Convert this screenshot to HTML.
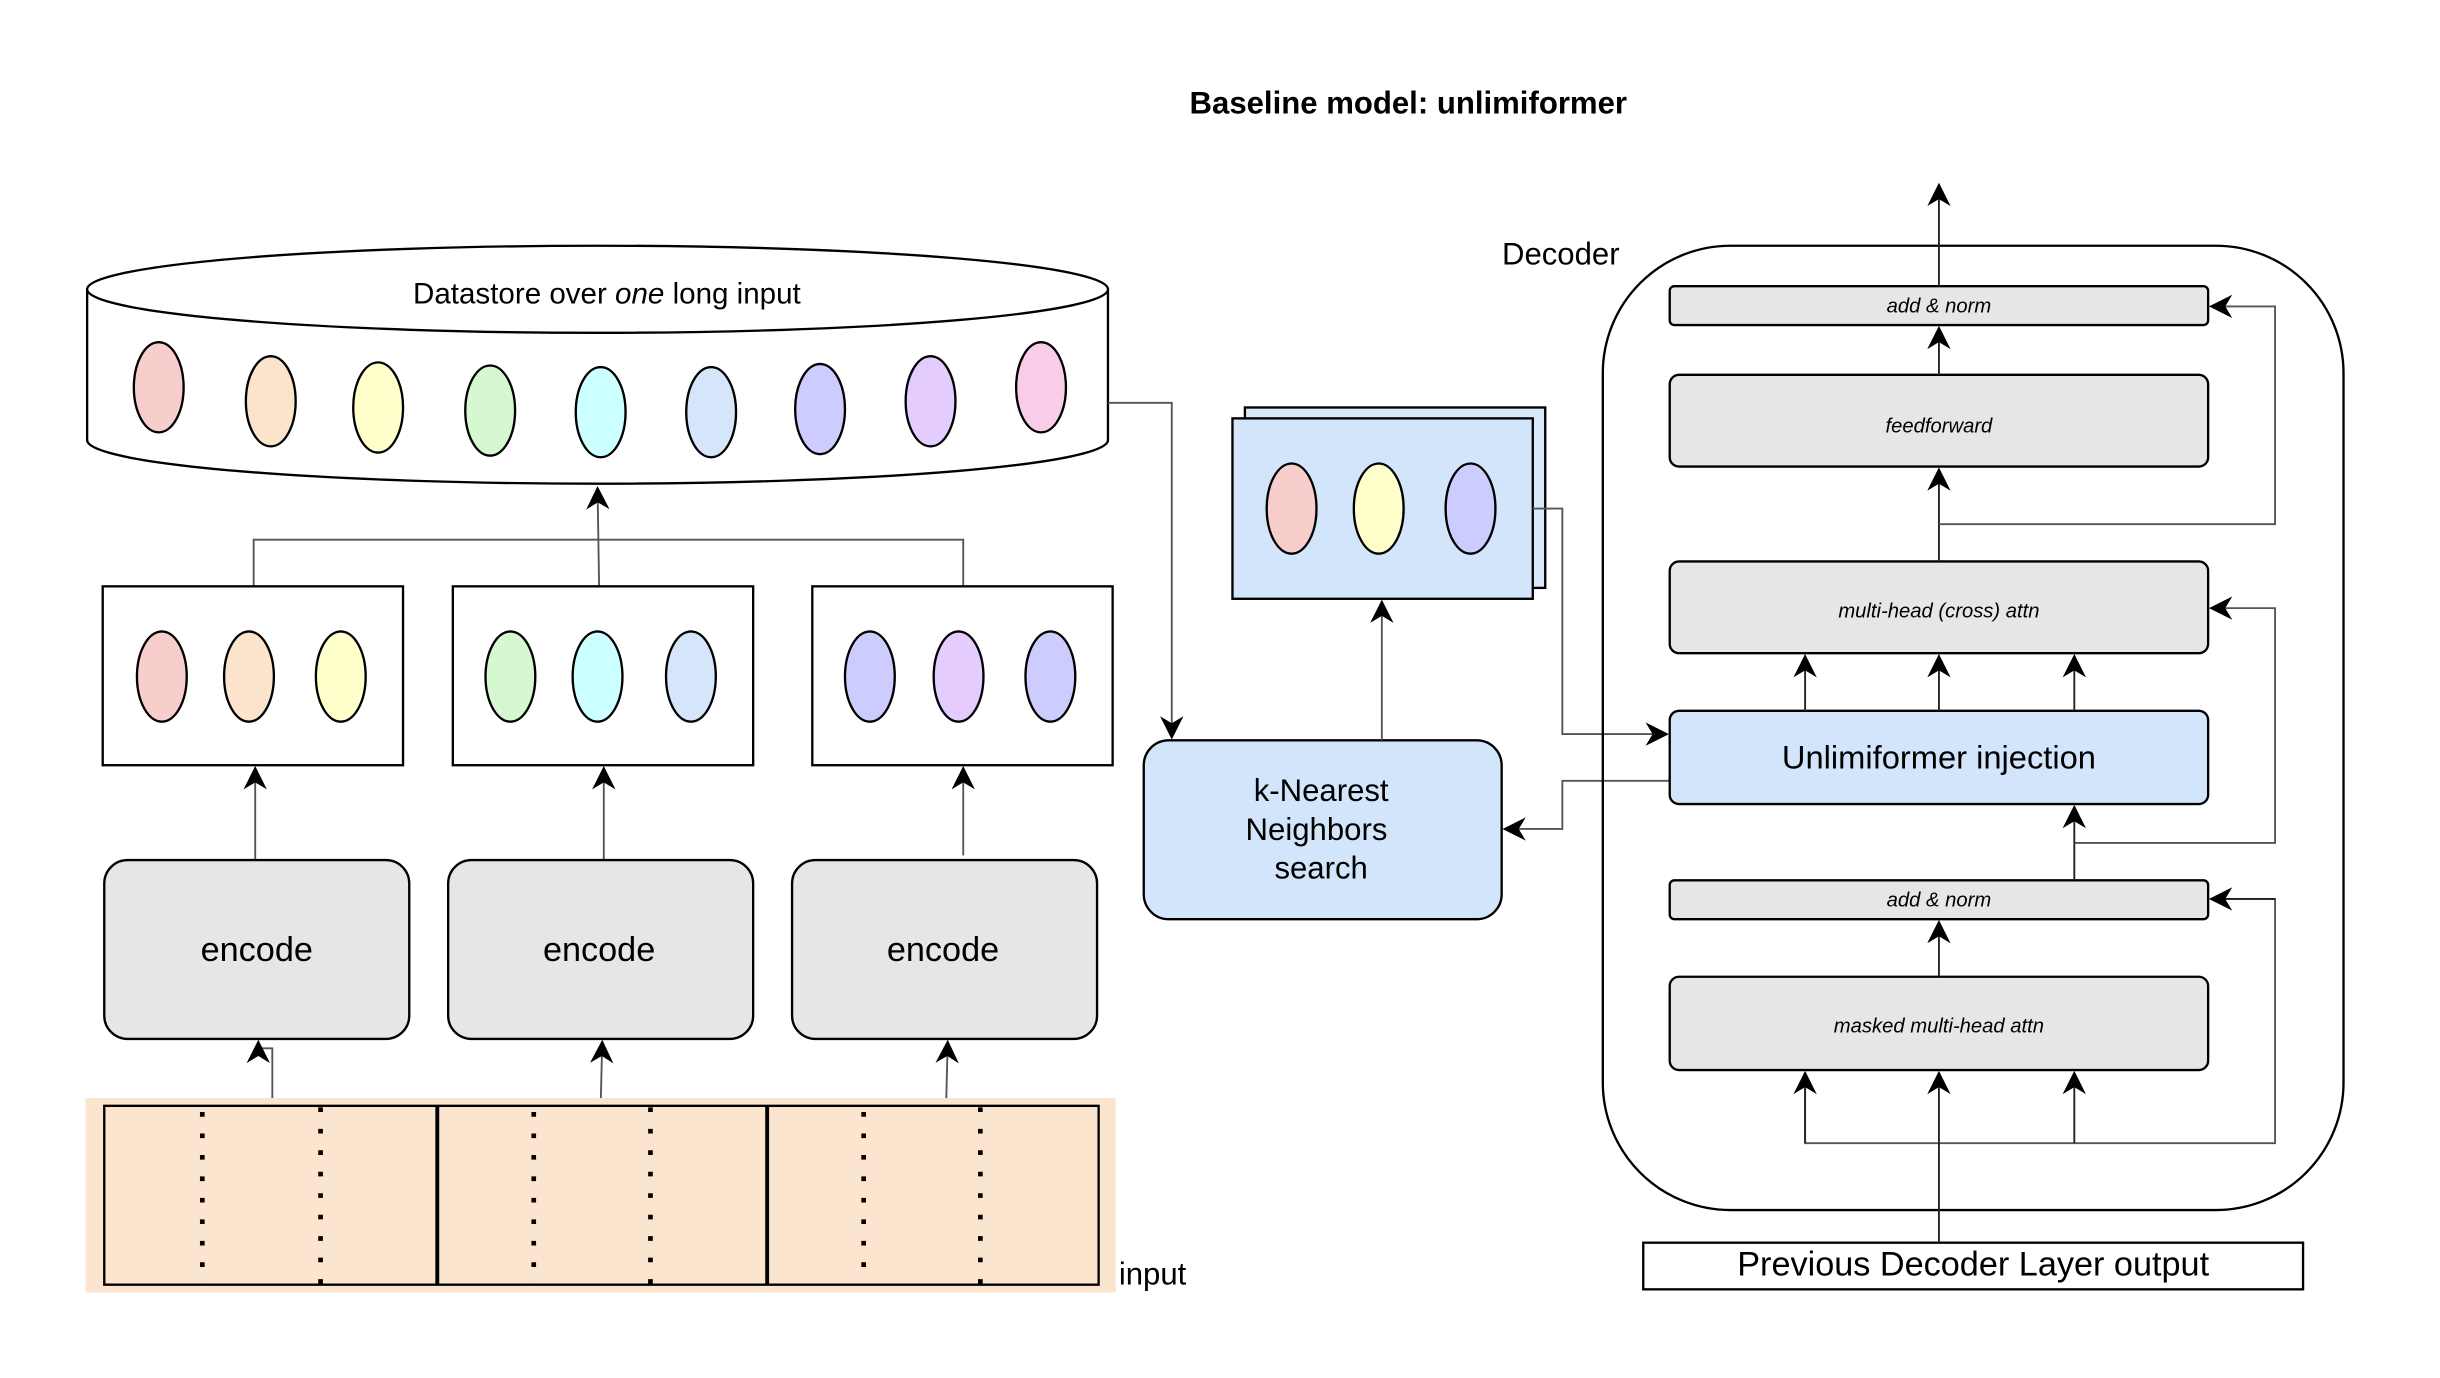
<!DOCTYPE html>
<html><head><meta charset="utf-8"><style>
html,body{margin:0;padding:0;background:#fff;}
svg{display:block;}
text{font-family:"Liberation Sans",sans-serif;}
</style></head><body>
<svg width="2440" height="1378" viewBox="0 0 1568 886" preserveAspectRatio="none" xmlns="http://www.w3.org/2000/svg">
<defs>
<marker id="a" viewBox="0 0 10 10" refX="9" refY="5" markerWidth="15" markerHeight="15" orient="auto" markerUnits="userSpaceOnUse">
<path d="M0,0 L10,5 L0,10 L3,5 Z" fill="#000"/>
</marker>
</defs>
<rect width="1568" height="886" fill="#fff"/>
<text x="905" y="73" font-size="20" font-weight="bold" text-anchor="middle">Baseline model: unlimiformer</text>

<path d="M56,186 L56,283 A328,28 0 0 0 712,283 L712,186" fill="#fff" stroke="#000" stroke-width="1.5"/>
<ellipse cx="384" cy="186" rx="328" ry="28" fill="#fff" stroke="#000" stroke-width="1.5"/>
<text x="390" y="195" font-size="19" text-anchor="middle">Datastore over <tspan font-style="italic">one</tspan> long input</text>
<g stroke="#000" stroke-width="1.5">
<ellipse cx="102" cy="249" rx="16" ry="29" fill="#f8cecc"/>
<ellipse cx="174" cy="258" rx="16" ry="29" fill="#fbe3cc"/>
<ellipse cx="243" cy="262" rx="16" ry="29" fill="#ffffcc"/>
<ellipse cx="315" cy="264" rx="16" ry="29" fill="#d5f8d0"/>
<ellipse cx="386" cy="265" rx="16" ry="29" fill="#ccffff"/>
<ellipse cx="457" cy="265" rx="16" ry="29" fill="#d5e6fb"/>
<ellipse cx="527" cy="263" rx="16" ry="29" fill="#ccccff"/>
<ellipse cx="598" cy="258" rx="16" ry="29" fill="#e5ccff"/>
<ellipse cx="669" cy="249" rx="16" ry="29" fill="#f9cce8"/>
</g>

<g fill="none" stroke="#555" stroke-width="1.2">
<polyline points="712,259 753,259 753,474" marker-end="url(#a)"/>
<polyline points="163,377 163,347 619,347 619,377"/>
<polyline points="385,377 384,314" marker-end="url(#a)"/>
<line x1="164" y1="553" x2="164" y2="494" marker-end="url(#a)"/>
<line x1="388" y1="553" x2="388" y2="494" marker-end="url(#a)"/>
<line x1="619" y1="550" x2="619" y2="494" marker-end="url(#a)"/>
<polyline points="175,711 175,674 166,674 166,670" marker-end="url(#a)"/>
<polyline points="386,711 387,670" marker-end="url(#a)"/>
<polyline points="608,711 609,670" marker-end="url(#a)"/>
</g>

<g stroke="#000" stroke-width="1.5">
<rect x="66" y="377" width="193" height="115" fill="#fff"/>
<rect x="291" y="377" width="193" height="115" fill="#fff"/>
<rect x="522" y="377" width="193" height="115" fill="#fff"/>
<ellipse cx="104" cy="435" rx="16" ry="29" fill="#f8cecc"/>
<ellipse cx="160" cy="435" rx="16" ry="29" fill="#fbe3cc"/>
<ellipse cx="219" cy="435" rx="16" ry="29" fill="#ffffcc"/>
<ellipse cx="328" cy="435" rx="16" ry="29" fill="#d5f8d0"/>
<ellipse cx="384" cy="435" rx="16" ry="29" fill="#ccffff"/>
<ellipse cx="444" cy="435" rx="16" ry="29" fill="#d5e6fb"/>
<ellipse cx="559" cy="435" rx="16" ry="29" fill="#ccccff"/>
<ellipse cx="616" cy="435" rx="16" ry="29" fill="#e5ccff"/>
<ellipse cx="675" cy="435" rx="16" ry="29" fill="#ccccff"/>
<rect x="67" y="553" width="196" height="115" rx="15" fill="#e6e6e6"/>
<rect x="288" y="553" width="196" height="115" rx="15" fill="#e6e6e6"/>
<rect x="509" y="553" width="196" height="115" rx="15" fill="#e6e6e6"/>
</g>
<g font-size="22" text-anchor="middle">
<text x="165" y="618">encode</text>
<text x="385" y="618">encode</text>
<text x="606" y="618">encode</text>
</g>

<rect x="55" y="706" width="662" height="125" fill="#fbe5cf"/>
<rect x="67" y="711" width="639" height="115" fill="none" stroke="#000" stroke-width="1.5"/>
<line x1="281" y1="711" x2="281" y2="826" stroke="#000" stroke-width="2.5"/>
<line x1="493" y1="711" x2="493" y2="826" stroke="#000" stroke-width="2.5"/>
<g stroke="#000" stroke-width="3" stroke-dasharray="3 10.8">
<line x1="130" y1="715" x2="130" y2="826"/>
<line x1="206" y1="712" x2="206" y2="826"/>
<line x1="343" y1="715" x2="343" y2="826"/>
<line x1="418" y1="712" x2="418" y2="826"/>
<line x1="555" y1="715" x2="555" y2="826"/>
<line x1="630" y1="712" x2="630" y2="826"/>
</g>
<text x="719" y="826" font-size="20">input</text>

<g stroke="#000" stroke-width="1.5">
<rect x="800" y="262" width="193" height="116" fill="#dae8fc"/>
<rect x="792" y="269" width="193" height="116" fill="#d3e5fb"/>
<ellipse cx="830" cy="327" rx="16" ry="29" fill="#f8cecc"/>
<ellipse cx="886" cy="327" rx="16" ry="29" fill="#ffffcc"/>
<ellipse cx="945" cy="327" rx="16" ry="29" fill="#ccccff"/>
<rect x="735" y="476" width="230" height="115" rx="16" fill="#d3e5fb"/>
</g>
<g font-size="20" text-anchor="middle">
<text x="849" y="515">k-Nearest</text>
<text x="846" y="540">Neighbors</text>
<text x="849" y="565">search</text>
</g>
<g fill="none" stroke="#555" stroke-width="1.2">
<line x1="888" y1="476" x2="888" y2="387" marker-end="url(#a)"/>
<polyline points="985,327 1004,327 1004,472 1071,472" marker-end="url(#a)"/>
<polyline points="1073,502 1004,502 1004,533 967,533" marker-end="url(#a)"/>
</g>

<text x="1003" y="170" font-size="20" text-anchor="middle">Decoder</text>
<rect x="1030" y="158" width="476" height="620" rx="82" fill="none" stroke="#000" stroke-width="1.5"/>
<g stroke="#000" stroke-width="1.5">
<rect x="1073" y="184" width="346" height="25" rx="3" fill="#e6e6e6"/>
<rect x="1073" y="241" width="346" height="59" rx="6" fill="#e6e6e6"/>
<rect x="1073" y="361" width="346" height="59" rx="6" fill="#e6e6e6"/>
<rect x="1073" y="457" width="346" height="60" rx="6" fill="#d3e5fb"/>
<rect x="1073" y="566" width="346" height="25" rx="3" fill="#e6e6e6"/>
<rect x="1073" y="628" width="346" height="60" rx="6" fill="#e6e6e6"/>
<rect x="1056" y="799" width="424" height="30" fill="#fff"/>
</g>
<g font-size="13" font-style="italic" text-anchor="middle">
<text x="1246" y="201">add &amp; norm</text>
<text x="1246" y="278">feedforward</text>
<text x="1246" y="397">multi-head (cross) attn</text>
<text x="1246" y="583">add &amp; norm</text>
<text x="1246" y="664">masked multi-head attn</text>
</g>
<text x="1246" y="494" font-size="21" text-anchor="middle">Unlimiformer injection</text>
<text x="1268" y="820" font-size="22" text-anchor="middle">Previous Decoder Layer output</text>

<g fill="none" stroke="#222" stroke-width="1.2">
<line x1="1246" y1="184" x2="1246" y2="119" marker-end="url(#a)"/>
<line x1="1246" y1="241" x2="1246" y2="211" marker-end="url(#a)"/>
<line x1="1246" y1="361" x2="1246" y2="302" marker-end="url(#a)"/>
<polyline points="1246,337 1462,337 1462,197 1421,197" marker-end="url(#a)" stroke="#555"/>
<line x1="1160" y1="457" x2="1160" y2="422" marker-end="url(#a)"/>
<line x1="1246" y1="457" x2="1246" y2="422" marker-end="url(#a)"/>
<line x1="1333" y1="457" x2="1333" y2="422" marker-end="url(#a)"/>
<polyline points="1333,542 1462,542 1462,391 1421,391" marker-end="url(#a)" stroke="#555"/>
<line x1="1333" y1="566" x2="1333" y2="519" marker-end="url(#a)"/>
<line x1="1246" y1="628" x2="1246" y2="593" marker-end="url(#a)"/>
<polyline points="1160,690 1160,735 1462,735 1462,578 1421,578" stroke="#555"/>
<line x1="1462" y1="578" x2="1421" y2="578" marker-end="url(#a)"/>
<line x1="1160" y1="735" x2="1160" y2="690" marker-end="url(#a)"/>
<line x1="1333" y1="735" x2="1333" y2="690" marker-end="url(#a)"/>
<line x1="1246" y1="799" x2="1246" y2="690" marker-end="url(#a)"/>
</g>
</svg>
</body></html>
